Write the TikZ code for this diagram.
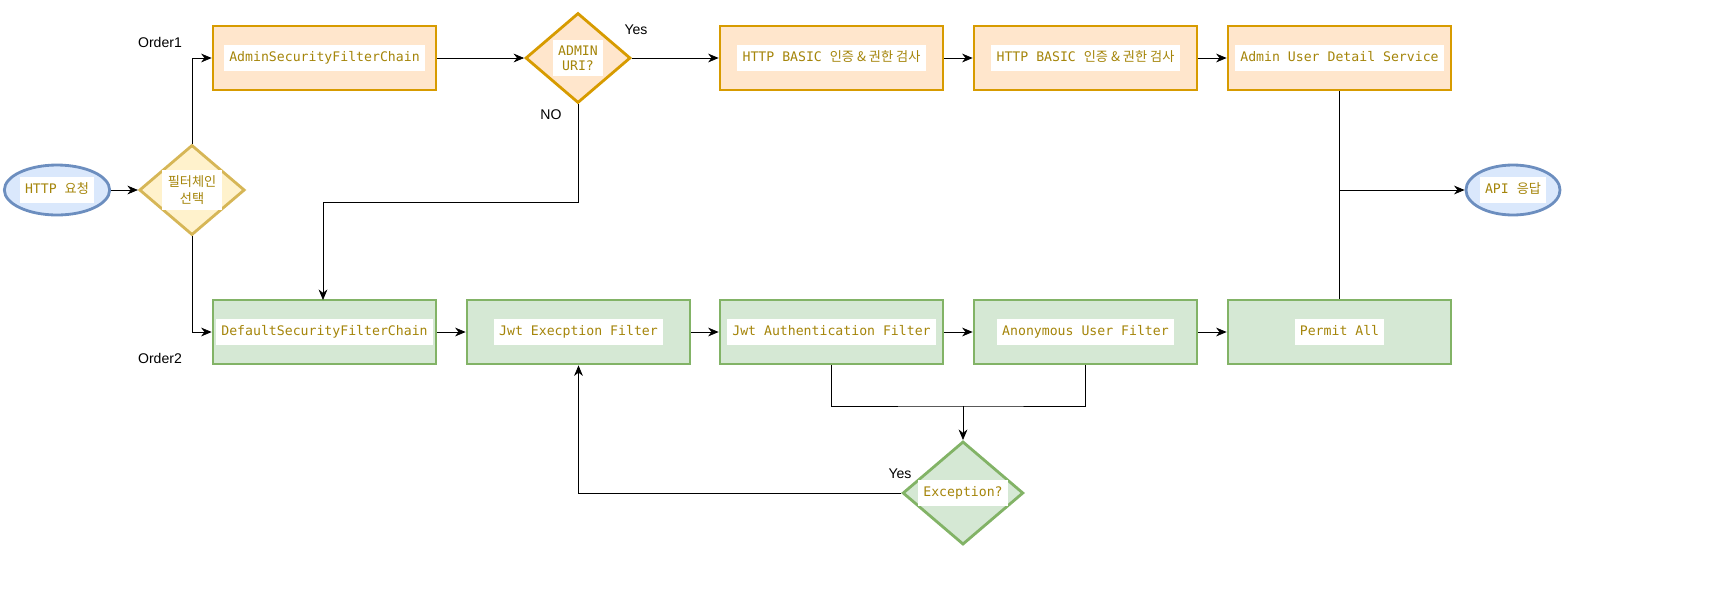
\documentclass[border=0pt]{standalone}
\usepackage{fontspec}
\usepackage{tikz}
\setmainfont{Liberation Sans}
\setmonofont{DejaVu Sans Mono}
\newfontfamily\cjk{Noto Sans CJK KR}
\usetikzlibrary{shapes.geometric,arrows.meta}
\definecolor{txtc}{HTML}{A5850A}
\definecolor{orf}{HTML}{FFE6CC}\definecolor{ord}{HTML}{D79B00}
\definecolor{grf}{HTML}{D5E8D4}\definecolor{grd}{HTML}{82B366}
\definecolor{blf}{HTML}{DAE8FC}\definecolor{bld}{HTML}{6C8EBF}
\definecolor{ylf}{HTML}{FFF2CC}\definecolor{yld}{HTML}{D6B656}
\newcommand{\lbl}[1]{\colorbox{white}{\strut #1}}
\begin{document}%
\begin{tikzpicture}[x=0.02cm,y=-0.02cm,
    font=\ttfamily\fontsize{7.5}{9}\selectfont,
    box/.style={rectangle,line width=1.6pt,minimum width=4.46cm,minimum height=1.28cm,text=txtc,inner sep=0pt},
    admin/.style={box,fill=orf,draw=ord},
    chain/.style={box,fill=grf,draw=grd},
    dec/.style={diamond,line width=1.6pt,minimum width=2.1cm,minimum height=1.8cm,inner sep=0pt,aspect=1.17,text=txtc,align=center},
    term/.style={ellipse,line width=1.6pt,fill=blf,draw=bld,text=txtc,inner sep=0pt},
    arr/.style={-{Stealth[length=6pt,width=5pt]},thin},
    tag/.style={font=\rmfamily\fontsize{8}{9}\selectfont}]
\useasboundingbox (0,0) rectangle (1725,606);
% start
\node[term,minimum width=1.7cm,minimum height=1cm] (req) at (57,190) {\lbl{HTTP \cjk{요청}}};
\node[dec,fill=ylf,draw=yld,font=\cjk\fontsize{7.5}{10}\selectfont] (pick) at (192,190) {\colorbox{white}{\shortstack{필터체인\\선택}}};
% admin chain
\node[admin] (adm) at (324.5,58) {\lbl{AdminSecurityFilterChain}};
\node[dec,fill=orf,draw=ord] (uri) at (578,58) {\colorbox{white}{\shortstack{ADMIN\\URI?}}};
\node[admin] (basic1) at (831.5,58) {\lbl{HTTP BASIC \cjk{인증} \& \cjk{권한 검사}}};
\node[admin] (basic2) at (1085.5,58) {\lbl{HTTP BASIC \cjk{인증} \& \cjk{권한 검사}}};
\node[admin] (uds) at (1339.5,58) {\lbl{Admin User Detail Service}};
% default chain
\node[chain] (dflt) at (324.5,332) {\lbl{DefaultSecurityFilterChain}};
\node[chain] (jexc) at (578.5,332) {\lbl{Jwt Execption Filter}};
\node[chain] (jauth) at (831.5,332) {\lbl{Jwt Authentication Filter}};
\node[chain] (anon) at (1085.5,332) {\lbl{Anonymous User Filter}};
\node[chain] (perm) at (1339.5,332) {\lbl{Permit All}};
\node[dec,fill=grf,draw=grd] (exc) at (963,493) {\lbl{Exception?}};
\node[term,minimum width=1.7cm,minimum height=1cm] (resp) at (1513,190) {\lbl{API \cjk{응답}}};
% labels
\node[tag] (o1) at (160,42) {Order1};
\node[tag] (o2) at (160,358) {Order2};
\node[tag] (yes1) at (636,30) {Yes};
\node[tag] (no1) at (551,115) {NO};
\node[tag] (yes2) at (900,474) {Yes};
\coordinate (mid) at (963,406);
\coordinate (join) at (1339,190);
% connectors
\draw[arr] (req) -- (pick);
\draw[arr] (pick.north) |- (adm.west);
\draw[arr] (pick.south) |- (dflt.west);
\draw[arr] (adm) -- (uri);
\draw[arr] (uri) -- (basic1);
\draw[arr] (basic1) -- (basic2);
\draw[arr] (basic2) -- (uds);
\draw[arr] (uri.south) |- (323,202) -- (323,300);
\draw[arr] (dflt) -- (jexc);
\draw[arr] (jexc) -- (jauth);
\draw[arr] (jauth) -- (anon);
\draw[arr] (anon) -- (perm);
\draw (uds.south) -- (perm.north);
\draw[arr] (join) -- (resp);
\draw (jauth.south) |- (mid) -| (anon.south);
\draw[arr] (mid) -- (exc.north);
\draw[arr] (exc.west) -| (jexc.south);
\end{tikzpicture}%
\end{document}
